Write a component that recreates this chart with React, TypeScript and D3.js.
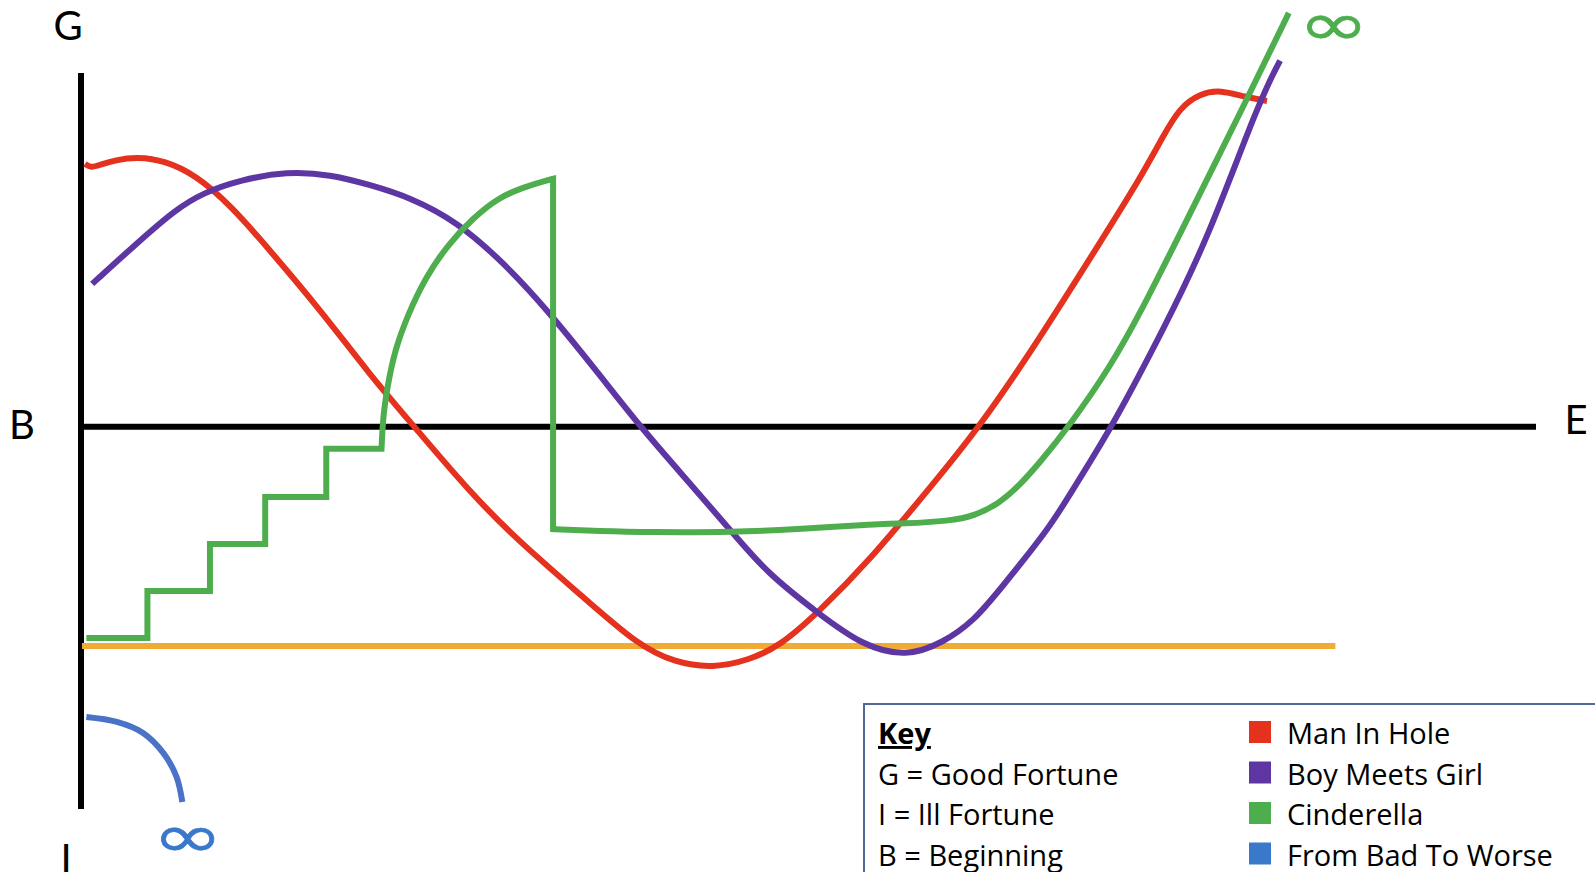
import * as d3 from "d3";

// story arcs: x = story time (0 = beginning, 100 = end), y = fortune (G up, I down)
const manInHole: [number, number][] = [
  [0.2, 74.3], [0.6, 73.2], [1.2, 74.0], [2.3, 75.4], [3.8, 76.3], [5.7, 75.2],
  [7.8, 71.2], [10.2, 62.7], [12.9, 50.0], [16.4, 33.0], [19.8, 14.7], [22.8, 0.3],
  [26.7, -18.6], [30.1, -32.6], [34.5, -48.2], [38.2, -61.6], [40.8, -66.7],
  [43.4, -68.2], [45.9, -65.9], [48.0, -61.9], [50.6, -52.6], [54.2, -37.6],
  [58.3, -17.3], [61.8, 0.3], [65.9, 25.2], [70.0, 52.0], [72.8, 70.4], [74.4, 82.5],
  [75.5, 90.2], [76.9, 94.2], [78.3, 95.2], [80.0, 93.2], [81.5, 92.1],
];

const boyMeetsGirl: [number, number][] = [
  [0.7, 40.4], [3.8, 52.0], [6.4, 61.3], [8.3, 66.1], [10.9, 69.8], [14.1, 72.2],
  [17.1, 71.3], [19.8, 68.4], [22.6, 64.8], [25.8, 58.0], [29.0, 46.4], [32.0, 33.1],
  [35.6, 14.7], [38.4, 0.0], [41.6, -15.0], [44.6, -29.2], [47.1, -41.3],
  [50.6, -52.6], [53.7, -61.9], [56.7, -65.0], [59.2, -61.1], [61.4, -54.6],
  [63.1, -46.1], [66.6, -28.3], [68.2, -17.3], [70.9, 0.3], [74.6, 29.4],
  [77.4, 52.9], [81.0, 92.5], [82.4, 103.5],
];

const cinderellaStairs: [number, number][] = [
  [0.3, -59.7], [4.5, -46.4], [8.8, -33.1], [12.6, -19.8], [16.8, -6.2], [20.6, -6.2],
];
const cinderellaRise: [number, number][] = [
  [20.6, -6.2], [20.7, 2.8], [21.0, 11.3], [21.5, 21.5], [22.4, 31.6], [23.6, 42.1],
  [25.2, 51.7], [26.9, 59.0], [28.6, 64.7], [30.4, 67.8], [32.1, 69.8], [32.4, 70.1],
];
const cinderellaDrop: [number, number][] = [[32.4, 70.1], [32.4, -28.9]];
const cinderellaRecovery: [number, number][] = [
  [32.4, -28.9], [35.6, -29.5], [39.1, -29.8], [44.8, -29.8], [49.4, -28.9],
  [52.8, -28.0], [54.9, -27.4], [56.3, -27.4], [59.7, -26.6], [61.4, -25.2],
  [63.1, -21.5], [64.3, -17.3], [65.9, -10.0], [67.9, 0.3], [70.7, 16.7],
  [73.0, 33.9], [75.3, 52.8], [80.1, 92.4], [83.0, 117.0],
];

const fromBadToWorse: [number, number][] = [
  [0.3, -82.0], [2.4, -83.4], [4.2, -86.5], [5.6, -92.2], [6.5, -98.9], [6.9, -106.0],
];

const flatLine: [number, number][] = [[0, -61.9], [86.2, -61.9]];

const keyRows = ["G = Good Fortune", "I = Ill Fortune", "B = Beginning"];
const seriesNames = ["Man In Hole", "Boy Meets Girl", "Cinderella", "From Bad To Worse"];
const seriesColors = ["#E5321F", "#5E36A3", "#4EAE4E", "#3A78CC"];

const W = 1595;
const H = 872;

export default function App() {
  const x = d3.scaleLinear().domain([0, 100]).range([82, 1536]);
  const y = d3.scaleLinear().domain([-108, 100]).range([809, 73]);

  const smooth = d3
    .line<[number, number]>()
    .x((d) => x(d[0]))
    .y((d) => y(d[1]))
    .curve(d3.curveBasis);
  const arc = d3
    .line<[number, number]>()
    .x((d) => x(d[0]))
    .y((d) => y(d[1]))
    .curve(d3.curveCatmullRom.alpha(0.5));
  const straight = d3
    .line<[number, number]>()
    .x((d) => x(d[0]))
    .y((d) => y(d[1]));
  const stairs = d3
    .line<[number, number]>()
    .x((d) => x(d[0]))
    .y((d) => y(d[1]))
    .curve(d3.curveStepAfter);

  // join the cinderella pieces into one continuous path
  const cinderellaPath = [
    stairs(cinderellaStairs),
    smooth(cinderellaRise),
    straight(cinderellaDrop),
    smooth(cinderellaRecovery),
  ]
    .map((d, i) => (i === 0 ? d : (d as string).replace(/^M/, "L")))
    .join("");

  const labelFont = "Lato, 'Open Sans', sans-serif";
  const keyFont = "'Open Sans', Lato, sans-serif";
  const rowY = (i: number) => 744 + i * 40.5;

  return (
    <svg
      width={W}
      height={H}
      style={{ position: "absolute", left: 0, top: 0, display: "block", background: "#fff" }}
      fontFamily={labelFont}
    >
      {/* axes */}
      <line x1={x(0) - 1} x2={x(0) - 1} y1={y(100)} y2={y(-108)} stroke="#000" strokeWidth={6} />
      <line x1={x(0)} x2={x(100)} y1={y(0)} y2={y(0)} stroke="#000" strokeWidth={6} />
      <text x={68} y={40} fontSize={40} textAnchor="middle">G</text>
      <text x={22} y={439} fontSize={40} textAnchor="middle">B</text>
      <text x={1576} y={434} fontSize={40} textAnchor="middle">E</text>
      <text x={66} y={873} fontSize={40} textAnchor="middle">I</text>

      <path d={straight(flatLine) as string} fill="none" stroke="#F0AB35" strokeWidth={6} />
      <path d={smooth(manInHole) as string} fill="none" stroke={seriesColors[0]} strokeWidth={6} />
      <path d={smooth(boyMeetsGirl) as string} fill="none" stroke={seriesColors[1]} strokeWidth={6} />
      <path d={cinderellaPath} fill="none" stroke={seriesColors[2]} strokeWidth={6} />
      <path d={arc(fromBadToWorse) as string} fill="none" stroke="#4A72C6" strokeWidth={6} />

      <text
        transform="translate(1334,25) scale(1.42,1)"
        y={19.6}
        fontSize={60}
        textAnchor="middle"
        fill={seriesColors[2]}
        stroke={seriesColors[2]}
        strokeWidth={0.5}
        fontFamily="DejaVu Sans"
      >
        ∞
      </text>
      <text
        transform="translate(188,837) scale(1.42,1)"
        y={19.6}
        fontSize={60}
        textAnchor="middle"
        fill={seriesColors[3]}
        stroke={seriesColors[3]}
        strokeWidth={0.5}
        fontFamily="DejaVu Sans"
      >
        ∞
      </text>

      {/* key */}
      <rect x={864} y={704} width={800} height={300} fill="#fff" stroke="#51669A" strokeWidth={2} />
      <text x={878} y={rowY(0)} fontSize={29} fontFamily={keyFont} fontWeight="bold" textDecoration="underline">
        Key
      </text>
      {keyRows.map((t, i) => (
        <text key={t} x={878} y={rowY(i + 1)} fontSize={29} fontFamily={keyFont}>
          {t}
        </text>
      ))}
      {seriesNames.map((t, i) => (
        <g key={t}>
          <rect x={1249} y={rowY(i) - 23} width={22} height={22} fill={seriesColors[i]} />
          <text x={1287} y={rowY(i)} fontSize={29} fontFamily={keyFont}>
            {t}
          </text>
        </g>
      ))}
    </svg>
  );
}
